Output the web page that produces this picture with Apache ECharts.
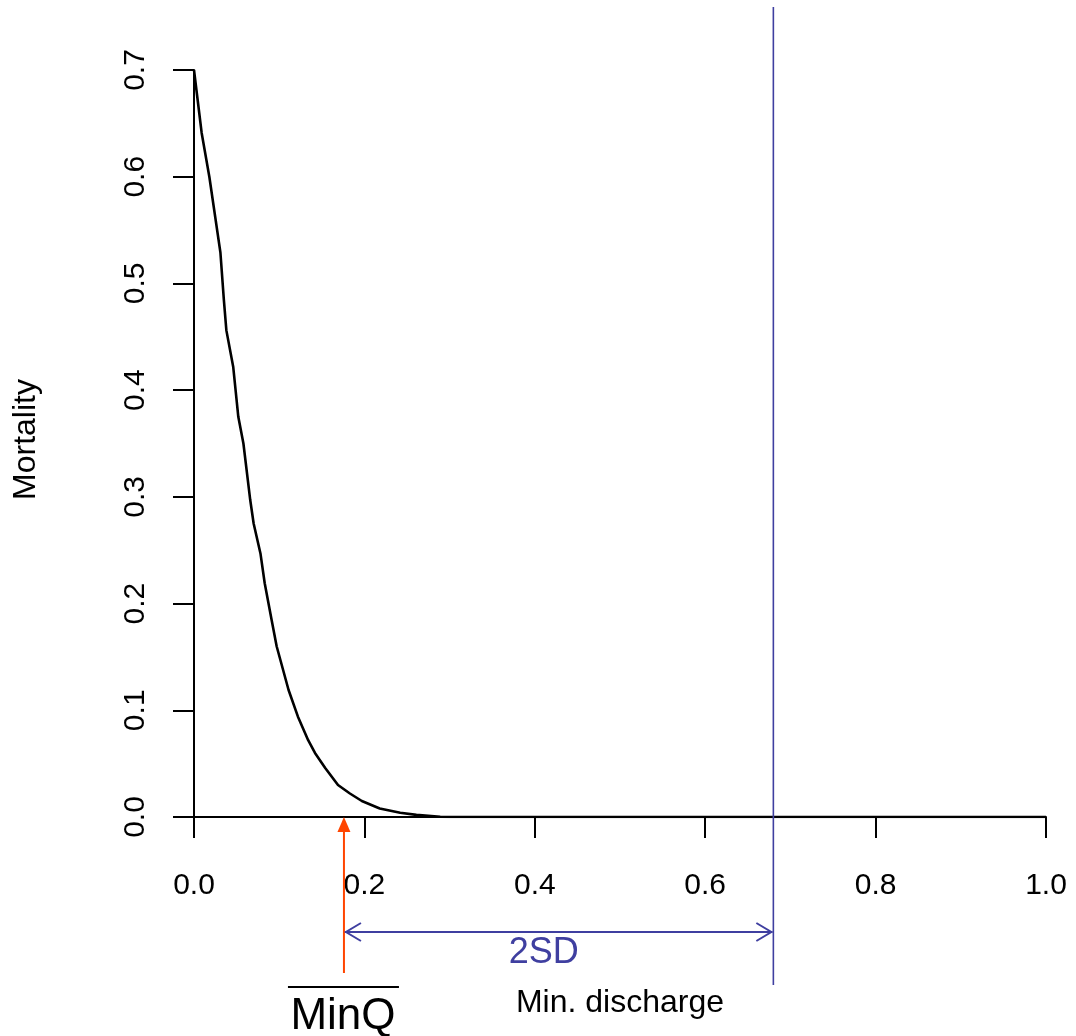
<!DOCTYPE html>
<html><head><meta charset="utf-8">
<script src="https://cdn.jsdelivr.net/npm/echarts@6/dist/echarts.min.js"></script>
<style>html,body{margin:0;padding:0;background:#fff}#c{width:1076px;height:1036px}</style>
</head><body><div id="c"></div>
<script>
// Data
const discharge = [0, 0.009, 0.018, 0.031, 0.035, 0.038, 0.046, 0.052, 0.058, 0.066, 0.070, 0.078, 0.083, 0.091, 0.097, 0.111, 0.122, 0.134, 0.142, 0.154, 0.169, 0.183, 0.197, 0.218, 0.242, 0.261, 0.289, 0.300, 1.0];
const mortality = [0.700, 0.641, 0.600, 0.529, 0.485, 0.456, 0.422, 0.375, 0.350, 0.297, 0.275, 0.247, 0.219, 0.185, 0.160, 0.119, 0.094, 0.072, 0.060, 0.046, 0.030, 0.022, 0.015, 0.008, 0.004, 0.002, 0.0003, 0, 0];
const xTickValues = [0, 0.2, 0.4, 0.6, 0.8, 1.0];
const yTickValues = [0, 0.1, 0.2, 0.3, 0.4, 0.5, 0.6, 0.7];
const meanMinQ = 0.176;      // red arrow position
const upperLimit = 0.68;     // mean + 2SD (blue vertical line)
const labels = { x: 'Min. discharge', y: 'Mortality', sd: '2SD', minq: 'MinQ' };

const SANS = "'Liberation Sans', Arial, Helvetica, sans-serif";
const BLUE = '#3f3fa0', RED = '#ff4500';

const chart = echarts.init(document.getElementById('c'), null, { renderer: 'canvas' });
chart.setOption({
  animation: false,
  backgroundColor: '#fff',
  grid: { left: 194, right: 30, top: 70, bottom: 219, containLabel: false },
  xAxis: {
    type: 'value', min: xTickValues[0], max: xTickValues[xTickValues.length - 1], interval: 0.2,
    axisLine: { onZero: false, lineStyle: { color: '#000', width: 2 } },
    axisTick: { show: true, inside: false, length: 21, lineStyle: { color: '#000', width: 2 } },
    axisLabel: { margin: 54, color: '#000', fontSize: 30, fontFamily: SANS, formatter: v => v.toFixed(1) },
    splitLine: { show: false },
    name: labels.x, nameLocation: 'middle', nameGap: 170,
    nameTextStyle: { color: '#000', fontSize: 32, fontFamily: SANS }
  },
  yAxis: {
    type: 'value', min: yTickValues[0], max: yTickValues[yTickValues.length - 1], interval: 0.1,
    axisLine: { onZero: false, lineStyle: { color: '#000', width: 2 } },
    axisTick: { show: true, inside: false, length: 21, lineStyle: { color: '#000', width: 2 } },
    axisLabel: { margin: 43, rotate: 90, color: '#000', fontSize: 30, fontFamily: SANS, formatter: v => v.toFixed(1) },
    splitLine: { show: false },
    name: labels.y, nameLocation: 'middle', nameGap: 152,
    nameTextStyle: { color: '#000', fontSize: 32, fontFamily: SANS, padding: [0, 0, 0, 8] }
  },
  series: [
    {
      type: 'line', data: discharge.map((d, i) => [d, mortality[i]]),
      showSymbol: false, smooth: false, lineStyle: { color: '#000', width: 2.6 }, z: 3
    },
    {
      type: 'custom', clip: false, z: 4,
      data: [[meanMinQ, upperLimit]],
      renderItem: function (params, api) {
        const q = api.value(0), s = api.value(1);
        const p0 = api.coord([q, 0]);
        const p1 = api.coord([s, 0]);
        const xq = p0[0], y0 = p0[1], xs = p1[0];
        const ytop = api.coord([s, 0.7])[1];
        const ya = y0 + 115;
        return {
          type: 'group', children: [
            { type: 'line', shape: { x1: xs, y1: ytop - 63, x2: xs, y2: y0 + 168 }, style: { stroke: BLUE, lineWidth: 1.6 } },
            { type: 'line', shape: { x1: xq, y1: y0 + 156, x2: xq, y2: y0 + 12 }, style: { stroke: RED, lineWidth: 2 } },
            { type: 'polygon', shape: { points: [[xq, y0], [xq - 6.5, y0 + 15], [xq + 6.5, y0 + 15]] }, style: { fill: RED } },
            { type: 'line', shape: { x1: xq + 1, y1: ya, x2: xs - 1, y2: ya }, style: { stroke: BLUE, lineWidth: 2 } },
            { type: 'polyline', shape: { points: [[xq + 17, ya - 9], [xq + 2, ya], [xq + 17, ya + 9]] }, style: { stroke: BLUE, lineWidth: 2, fill: null } },
            { type: 'polyline', shape: { points: [[xs - 17, ya - 9], [xs - 2, ya], [xs - 17, ya + 9]] }, style: { stroke: BLUE, lineWidth: 2, fill: null } },
            { type: 'text', style: { text: labels.sd, x: (xq + xs) / 2 - 15, y: y0 + 136, align: 'center', verticalAlign: 'middle', fill: BLUE, font: '36px ' + SANS } },
            { type: 'line', shape: { x1: xq - 56, y1: y0 + 170, x2: xq + 55, y2: y0 + 170 }, style: { stroke: '#000', lineWidth: 2 } },
            { type: 'text', style: { text: labels.minq, x: xq - 1, y: y0 + 200, align: 'center', verticalAlign: 'middle', fill: '#000', font: '44px ' + SANS } }
          ]
        };
      }
    }
  ]
});
</script>
</body></html>
